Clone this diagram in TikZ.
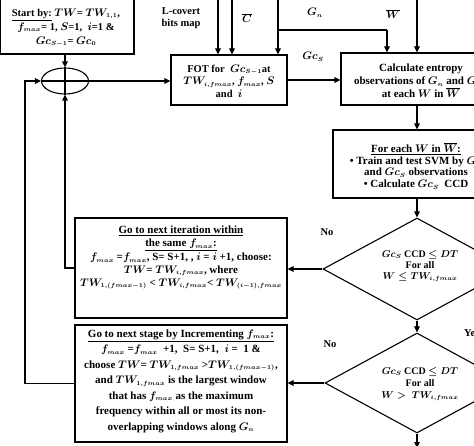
\documentclass[tikz,border=0pt]{standalone}
\usepackage{fontspec}
\setmainfont{Liberation Serif}
\DeclareMathSizes{11}{10.5}{6.5}{5}
\DeclareMathSizes{10.5}{10.5}{6.5}{5}
\DeclareMathSizes{10}{10}{6.5}{5}
\usetikzlibrary{arrows.meta,shapes.geometric,calc}
\tikzset{
  txt/.style={font=\fontsize{10}{12.5}\selectfont\bfseries\boldmath, align=center, inner sep=0pt},
  bigtxt/.style={txt, font=\fontsize{11}{12.8}\selectfont\bfseries\boldmath},
  midtxt/.style={txt, font=\fontsize{10.5}{12.5}\selectfont\bfseries\boldmath},
  boxnode/.style={draw, line width=1.1pt, inner sep=0pt},
  dia/.style={draw, diamond, line width=1.1pt, inner sep=0pt, aspect=1.84},
  conn/.style={line width=1.1pt},
  arr/.style={line width=1.1pt, -{Triangle[length=6pt,width=5.5pt]}},
}
\begin{document}
\begin{tikzpicture}[x=1pt,y=-1pt]
\useasboundingbox (0,0) rectangle (474,446);
\clip (0,0) rectangle (474,446);
% boxes
\node[boxnode, minimum width=134pt, minimum height=56pt] (start) at (67,26) {};
\node[midtxt, font=\fontsize{10.5}{14}\selectfont\bfseries\boldmath] (starttxt) at (66,28) {\underline{Start by:} $TW$= $TW_{1,1}$,\\ $f_{max}$= 1, $S$=1,~ $i$=1 \&\\ $Gc_{S-1}$= $Gc_0$};
\node[draw, ellipse, line width=1.1pt, minimum width=47pt, minimum height=26pt, inner sep=0pt] (sum) at (65,81) {};
\draw[conn] (sum.north) -- (sum.south);
\draw[conn] (sum.west) -- (sum.east);
\node[boxnode, minimum width=116pt, minimum height=50pt] (fot) at (229,80) {};
\node[midtxt] (fottxt) at (229,81) {FOT for~ $Gc_{S-1}$at\\ $TW_{i,fmax}$, $f_{max}$, $S$\\ and~ $i$};
\node[boxnode, minimum width=162pt, minimum height=52pt] (calc) at (422,79) {};
\node[bigtxt] (calctxt) at (421,81) {Calculate entropy\\ observations of $G_n$ and $Gc_S$\\ at each $W$ in $\overline{W}$};
\node[boxnode, minimum width=172pt, minimum height=68pt] (each) at (419,164) {};
\node[bigtxt, font=\fontsize{11}{11.8}\selectfont\bfseries\boldmath] (eachtxt) at (416,166) {\underline{For each $W$ in $\overline{W}$:}\\ \textbullet{} Train and test SVM by $G_n$\\ and $Gc_S$ observations\\ \textbullet{} Calculate $Gc_S$~ CCD};
\node[dia, minimum width=188pt, minimum height=102pt] (d1) at (417,269) {};
\node[txt, font=\fontsize{10}{11}\selectfont\bfseries\boldmath] (d1txt) at (420,266) {$Gc_S$ CCD $\le DT$\\ For all\\ $W\le TW_{i,fmax}$};
\node[dia, minimum width=184pt, minimum height=100pt] (d2) at (417,383) {};
\node[txt, font=\fontsize{10}{12}\selectfont\bfseries\boldmath] (d2txt) at (420,384) {$Gc_S$ CCD $\le DT$\\ For all\\ $W >~ TW_{i,fmax}$};
\node[boxnode, minimum width=212pt, minimum height=100pt] (iter) at (181,268) {};
\node[bigtxt, anchor=north] (itertxt) at (181,226) {\underline{Go to next iteration within}\\ \underline{the same $f_{max}$:}\\[1pt] $f_{max}$ =$f_{max}$, S= S+1, , $i$ = $i$ +1, choose:\\ $TW$= $TW_{i,fmax}$, where\\ $TW_{1,(fmax-1)}$ < $TW_{i,fmax}$< $TW_{(i-1),fmax}$};
\node[boxnode, minimum width=212pt, minimum height=117pt] (stage) at (181,383.5) {};
\node[bigtxt, font=\fontsize{11}{15.5}\selectfont\bfseries\boldmath] (stagetxt) at (181,381) {\underline{Go to next stage by Incrementing $f_{max}$:}\\ $f_{max}$ =$f_{max}$~ +1,~ S= S+1,~ $i$ =~ 1 \&\\ choose $TW$= $TW_{1,fmax}$ >$TW_{1,(fmax-1)}$,\\ and $TW_{1,fmax}$ is the largest window\\ that has $f_{max}$ as the maximum\\ frequency within all or most its non-\\ overlapping windows along $G_n$};
% labels
\node[midtxt] (lcov) at (181,18) {L-covert\\ bits map};
\node[midtxt] (cbar) at (247,18) {$\overline{C}$};
\node[midtxt] (gn) at (315,13) {$G_n$};
\node[midtxt] (gcs) at (313,57) {$Gc_S$};
\node[midtxt] (wbar) at (393,14) {$\overline{W}$};
\node[midtxt, anchor=west] (yes) at (464,333) {Yes};
\node[midtxt] (no1) at (327,232) {No};
\node[midtxt] (no2) at (330,344) {No};
% coordinates
\coordinate (in1) at (218,-2);
\coordinate (in2) at (232,-2);
\coordinate (in3) at (278,-2);
\coordinate (in4) at (417,-2);
\coordinate (br) at (278,30);
\coordinate (br2) at (387,30);
\coordinate (colx) at (417,0);
\coordinate (lcorner) at (25,81);
\coordinate (outb) at (417,448);
% connectors
\draw[arr] (sum.north |- start.south) -- (sum.north);
\draw[arr] (sum.east) -- (fot.west |- sum.east);
\draw[arr] (in1) -- (in1 |- fot.north);
\draw[arr] (in2) -- (in2 |- fot.north);
\draw[arr] (in3) -- (in3 |- fot.north);
\draw[conn] (br) -- (br2);
\draw[arr] (br2) -- (br2 |- calc.north);
\draw[arr] (in4) -- (in4 |- calc.north);
\draw[arr] (fot.east) -- (fot.east -| calc.west);
\draw[arr] (calc.south -| colx) -- (each.north -| colx);
\draw[arr] (each.south -| colx) -- (d1.north);
\draw[arr] (d1.south) -- (d2.north);
\draw[arr] (d2.south) -- (outb);
\draw[arr] (d1.west) -- (d1.west -| iter.east);
\draw[arr] (d2.west) -- (d2.west -| stage.east);
\draw[arr] (iter.west) -| (sum.south);
\draw[arr] (stage.west) -| (lcorner) -- (sum.west);
\end{tikzpicture}
\end{document}
